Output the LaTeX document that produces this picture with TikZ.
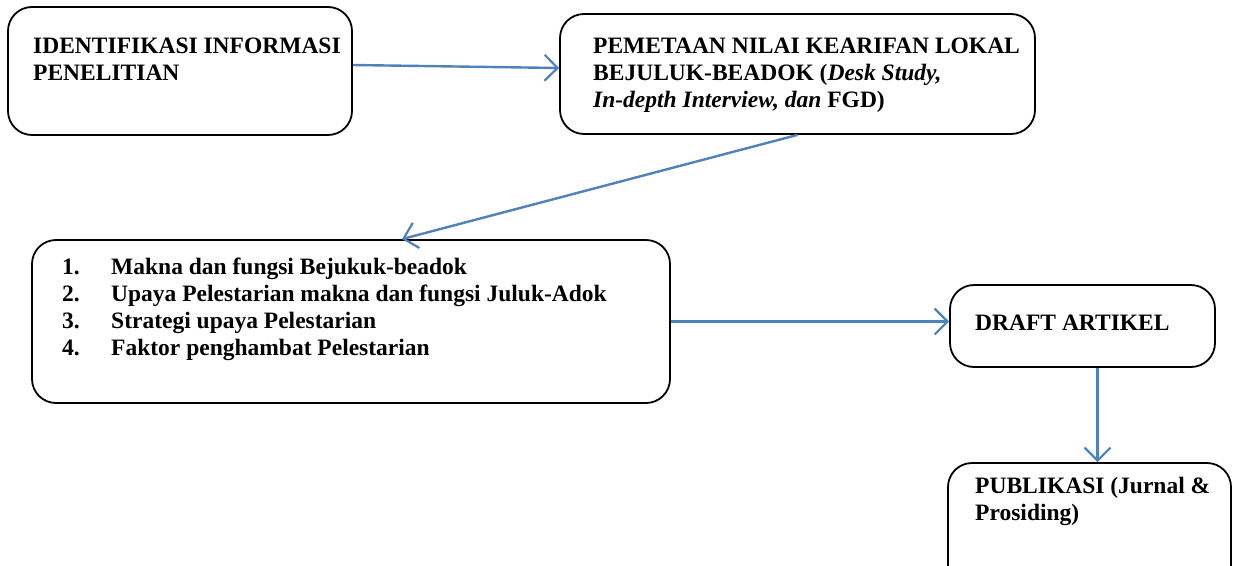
\documentclass[tikz,border=0pt]{standalone}
\usepackage{fontspec}
\setmainfont{Liberation Serif}
\usetikzlibrary{arrows.meta}
\definecolor{arrowblue}{RGB}{79,129,189}
\tikzset{
  boxstyle/.style={draw=black, line width=1.8pt, rounded corners=24pt, inner sep=0pt},
  txt/.style={anchor=base west, inner sep=0pt, align=left, font=\bfseries\fontsize{23.5}{27.3}\selectfont},
  conn/.style={draw=arrowblue, line width=2.4pt, -{Straight Barb[length=13pt,width=26pt,line width=2.2pt]}}
}
\begin{document}
\begin{tikzpicture}[x=1pt,y=-1pt]
\useasboundingbox (0,0) rectangle (1233,565);
\clip (0,0) rectangle (1233,565);
% boxes
\node[boxstyle, minimum width=344pt, minimum height=128pt] (b1) at (180,71) {};
\node[boxstyle, minimum width=475pt, minimum height=120pt] (b2) at (797.5,74) {};
\node[boxstyle, minimum width=638pt, minimum height=163pt] (b3) at (351,321.5) {};
\node[boxstyle, minimum width=265pt, minimum height=82pt] (b4) at (1082.5,326) {};
\node[boxstyle, minimum width=283pt, minimum height=137pt] (b5) at (1089.5,531.5) {};
% texts (anchor = baseline of the last line)
\node[txt] (t1) at (33,80.3) {IDENTIFIKASI INFORMASI\\PENELITIAN};
\node[txt] (t2) at (593,107.6) {PEMETAAN NILAI KEARIFAN LOKAL\\BEJULUK-BEADOK (\textit{Desk Study,}\\\textit{In-depth Interview, dan} FGD)};
\node[txt] (t3) at (62,355.9) {\makebox[49pt][l]{1.}Makna dan fungsi Bejukuk-beadok\\
\makebox[49pt][l]{2.}Upaya Pelestarian makna dan fungsi Juluk-Adok\\
\makebox[49pt][l]{3.}Strategi upaya Pelestarian\\
\makebox[49pt][l]{4.}Faktor penghambat Pelestarian};
\node[txt] (t4) at (975,330) {DRAFT ARTIKEL};
\node[txt] (t5) at (975,520.3) {PUBLIKASI (Jurnal \&\\Prosiding)};
% connectors
\draw[conn] ([yshift=6pt]b1.east) -- ([yshift=6pt]b2.west);
\draw[conn] (b2.south) -- ([xshift=51pt]b3.north);
\draw[conn] (b3.east) -- (b3.east -| b4.west);
\draw[conn] ([xshift=15pt]b4.south) -- ([xshift=15pt]b4.south |- b5.north);
\end{tikzpicture}
\end{document}
